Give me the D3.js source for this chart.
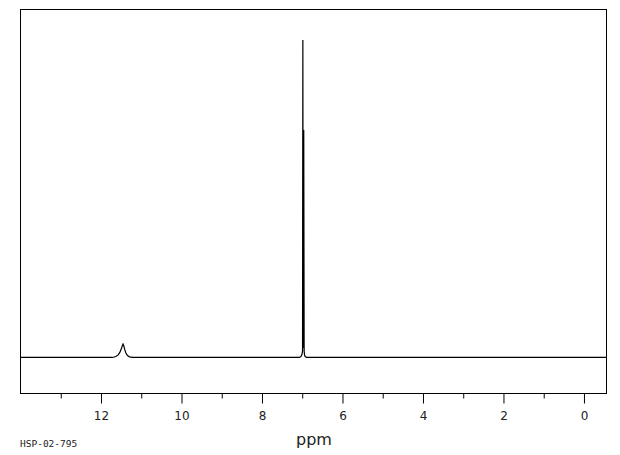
<!DOCTYPE html>
<html>
<head>
<meta charset="utf-8">
<script src="https://cdn.jsdelivr.net/npm/d3@7"></script>
<style>
html,body{margin:0;padding:0;background:#fff;}
svg{display:block;}
</style>
</head>
<body>
<svg id="chart" width="620" height="455"></svg>
<script>
// Spectrum data (ppm, relative intensity)
const ppmValues = [14.0, 12.0, 11.70, 11.62, 11.56, 11.52, 11.48, 11.46, 11.44, 11.42, 11.40, 11.37, 11.33, 11.28, 11.20, 9.0, 7.06, 7.02, 6.995, 6.980, 6.972, 6.965, 6.950, 6.940, 6.930, 6.915, 6.88, 5.0, 3.0, 1.0, -0.56];
const intensities = [0, 0, 0, 0.3, 0.8, 1.6, 2.8, 3.6, 4.2, 3.6, 2.6, 1.4, 0.6, 0.2, 0, 0, 0, 0.3, 0.9, 2.0, 100, 3.0, 71.7, 2.0, 0.8, 0.3, 0, 0, 0, 0, 0];
const tickValues = [12, 10, 8, 6, 4, 2, 0];
const minorTickValues = [13, 11, 9, 7, 5, 3, 1];
const xLabel = "ppm";
const sampleId = "HSP-02-795";

const svg = d3.select("#chart");
const mLeft = 20, mRight = 606, mTop = 9, mBottom = 393;

const x = d3.scaleLinear().domain([14, -0.56]).range([mLeft, mRight]);
const y = d3.scaleLinear().domain([-11.2, 109.8]).range([mBottom, mTop]);

// Frame
svg.append("rect")
  .attr("x", mLeft + 0.5).attr("y", mTop + 0.5)
  .attr("width", mRight - mLeft).attr("height", mBottom - mTop)
  .attr("fill", "none").attr("stroke", "#000").attr("stroke-width", 1);

// Axis
const gx = svg.append("g").attr("transform", `translate(0.5,${mBottom + 0.5})`);
gx.call(d3.axisBottom(x).tickValues(tickValues).tickSize(10).tickPadding(8).tickFormat(d3.format("d")))
  .call(g => g.select(".domain").remove())
  .call(g => g.selectAll("text").attr("font-family", "DejaVu Sans, sans-serif").attr("font-size", 12).attr("fill", "#222"));
gx.append("g").call(d3.axisBottom(x).tickValues(minorTickValues).tickSize(5).tickFormat(""))
  .call(g => g.select(".domain").remove());

// Spectrum line
const pts = ppmValues.map((p, i) => [p, intensities[i]]);
const line = d3.line().x(d => x(d[0])).y(d => y(d[1]));
svg.append("path")
  .datum(pts)
  .attr("d", line)
  .attr("fill", "none")
  .attr("stroke", "#000")
  .attr("stroke-width", 1.2);

// Labels
svg.append("text")
  .attr("x", 314).attr("y", 445)
  .attr("text-anchor", "middle")
  .attr("font-family", "DejaVu Sans, sans-serif")
  .attr("font-size", 16)
  .attr("fill", "#222")
  .text(xLabel);

svg.append("text")
  .attr("x", 20).attr("y", 447)
  .attr("font-family", "DejaVu Sans Mono, monospace")
  .attr("font-size", 9.5)
  .attr("fill", "#222")
  .text(sampleId);
</script>
</body>
</html>
